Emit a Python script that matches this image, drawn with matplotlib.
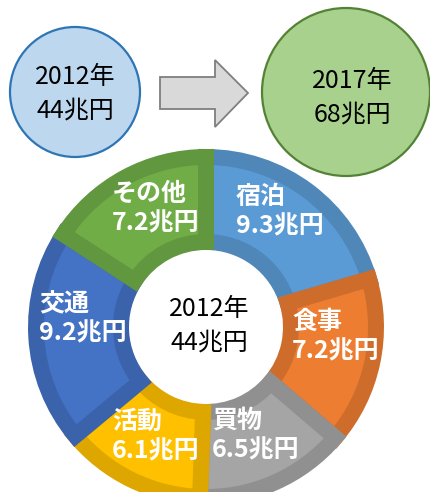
import matplotlib
matplotlib.use("Agg")
import matplotlib.pyplot as plt
from matplotlib.patches import Circle, Polygon
from matplotlib.colors import to_rgb

plt.rcParams["font.family"] = ["Noto Sans CJK JP", "DejaVu Sans"]

# spending breakdown for 2012 (trillion yen)
categories = ["宿泊", "食事", "買物", "活動", "交通", "その他"]
values = [9.3, 7.2, 6.5, 6.1, 9.2, 7.2]
colors = ["#5B9BD5", "#ED7D31", "#A5A5A5", "#FFC000", "#4472C4", "#70AD47"]

year_before, total_before = 2012, 44
year_after, total_after = 2017, 68

W, H = 431, 492


def py(y):
    """Convert a top-down pixel row into the axes' y coordinate."""
    return H - y


fig = plt.figure(figsize=(W / 100, H / 100), dpi=100)
ax = fig.add_axes([0, 0, 1, 1])

# donut of the category breakdown
cx, cy, r_out, r_in = 206, 327, 170, 85
wedges, _ = ax.pie(
    values,
    colors=colors,
    startangle=90,
    counterclock=False,
    radius=r_out,
    center=(cx, py(cy)),
    wedgeprops=dict(width=r_out - r_in),
)
for w, c in zip(wedges, colors):
    dark = tuple(v * 0.87 for v in to_rgb(c))
    w.set_edgecolor(dark)
    w.set_linewidth(11.5)
    w.set_clip_path(w)

# white labels on each wedge, left-aligned like text boxes
label_pos = [(236, 212), (292, 337), (212, 436), (112, 437), (39, 319), (112, 209)]
for name, val, (lx, ly) in zip(categories, values, label_pos):
    ax.text(lx, py(ly), f"{name}\n{val}兆円", color="white", fontsize=18,
            fontweight="bold", ha="left", va="center", linespacing=1.3)

ax.text(cx + 3, py(326), f"{year_before}年\n{total_before}兆円", color="black",
        fontsize=18, ha="center", va="center", linespacing=1.35)

# top: before / after totals
ax.add_patch(Circle((75, py(92)), 65, facecolor="#BDD7EE", edgecolor="#2E75B6", lw=1.6))
ax.text(75, py(94), f"{year_before}年\n{total_before}兆円", fontsize=18,
        ha="center", va="center", linespacing=1.35)

ax.add_patch(Circle((346, py(92)), 84, facecolor="#A9D18E", edgecolor="#548235", lw=1.6))
ax.text(352, py(98), f"{year_after}年\n{total_after}兆円", fontsize=18,
        ha="center", va="center", linespacing=1.35)

arrow = [(160, 77), (215, 77), (215, 60), (248, 93), (215, 127), (215, 109), (160, 109)]
ax.add_patch(Polygon([(x, py(y)) for x, y in arrow], closed=True,
                     facecolor="#D9D9D9", edgecolor="#7F7F7F", lw=1.3))

ax.set_xlim(0, W)
ax.set_ylim(0, H)
ax.set_aspect("equal")
ax.axis("off")

fig.savefig("out.png", dpi=100)
